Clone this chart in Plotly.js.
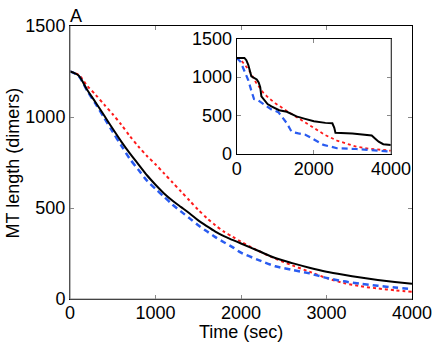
<!DOCTYPE html>
<html>
<head>
<meta charset="utf-8">
<script src="https://cdn.plot.ly/plotly-3.0.1.min.js"></script>
<style>html,body{margin:0;padding:0;background:#fff;}#chart{width:436px;height:342px;}</style>
</head>
<body>
<div id="chart"></div>
<script>
// Main panel data (time in sec, MT length in dimers)
const mainTime = [0,100,200,300,400,500,600,700,800,900,1000,1100,1200,1300,1400,1500,1600,1700,1800,1900,2000,2200,2400,2600,2800,3000,3200,3400,3600,3800,4000];
const mainBlack = [1250,1228,1150,1080,1008,935,865,800,740,680,628,580,540,505,470,432,400,370,345,325,305,265,225,197,172,150,133,118,105,94,84];
const mainBlue  = [1250,1226,1145,1072,995,918,843,770,710,650,605,562,518,480,443,405,372,340,312,285,255,215,180,160,141,116,97,84,73,63,54];
const mainRed   = [1250,1232,1172,1122,1068,1015,958,895,838,786,740,690,640,590,540,490,445,405,370,342,315,265,222,185,150,115,88,70,58,48,40];

// Inset data
const insetBlackTime = [0,200,250,300,380,450,520,570,610,640,700,800,900,1000,1100,1300,1450,1550,1750,2000,2300,2480,2530,2560,3000,3350,3500,3600,3680,3800,4000];
const insetBlack     = [1250,1250,1220,1160,1010,990,970,930,870,750,710,650,620,590,570,550,515,490,460,425,405,400,340,275,268,255,240,195,160,128,118];
const insetBlueTime  = [0,100,200,300,400,450,550,700,900,1080,1200,1300,1400,1450,1600,1780,1950,2100,2250,2450,2600,3100,3500,4000];
const insetBlue      = [1250,1200,1080,960,790,715,700,645,580,545,470,400,310,285,268,250,205,160,118,95,75,65,52,32];
const insetRedTime   = [0,100,200,350,500,700,850,1000,1300,1550,1800,2000,2300,2600,2850,3100,3450,3700,4000];
const insetRed       = [1250,1225,1170,1065,930,790,720,660,560,480,400,340,245,175,130,95,68,53,43];

// Ticks and labels
const mainXTicks = [0,1000,2000,3000,4000];
const mainYTicks = [0,500,1000,1500];
const insetXTicks = [0,2000,4000];
const insetYTicks = [0,500,1000,1500];
const xTitle = 'Time (sec)';
const yTitle = 'MT length (dimers)';
const panelLabel = 'A';

const blue = '#2a5cf0', red = '#ff1a1a';

const traces = [
  {x: mainTime, y: mainRed, mode:'lines', line:{color:red, width:2, dash:'dot', shape:'spline', smoothing:0.8}, xaxis:'x', yaxis:'y'},
  {x: mainTime, y: mainBlue, mode:'lines', line:{color:blue, width:2.5, dash:'6px,4px', shape:'spline', smoothing:0.8}, xaxis:'x', yaxis:'y'},
  {x: mainTime, y: mainBlack, mode:'lines', line:{color:'black', width:2, shape:'spline', smoothing:0.8}, xaxis:'x', yaxis:'y'},
  {x: insetRedTime, y: insetRed, mode:'lines', line:{color:red, width:1.8, dash:'dot'}, xaxis:'x2', yaxis:'y2'},
  {x: insetBlueTime, y: insetBlue, mode:'lines', line:{color:blue, width:2.2, dash:'6px,4px'}, xaxis:'x2', yaxis:'y2'},
  {x: insetBlackTime, y: insetBlack, mode:'lines', line:{color:'black', width:2}, xaxis:'x2', yaxis:'y2'}
];

const axBase = {showgrid:false, zeroline:false, ticks:'inside', ticklen:4, tickcolor:'#888',
  showline:true, linecolor:'black', linewidth:1, mirror:'ticks', tickfont:{size:18}};

const layout = {
  width:436, height:342,
  margin:{l:70, r:24, t:26, b:43, pad:0},
  showlegend:false,
  paper_bgcolor:'white', plot_bgcolor:'white',
  font:{family:'Liberation Sans, Arial, sans-serif', size:18, color:'black'},
  xaxis: Object.assign({}, axBase, {range:[0,4000], tickvals:mainXTicks, ticktext:mainXTicks.map(String), domain:[0,1], ticklabelstandoff:-3}),
  yaxis: Object.assign({}, axBase, {range:[0,1500], tickvals:mainYTicks, ticktext:mainYTicks.map(String), domain:[0,1]}),
  xaxis2: Object.assign({}, axBase, {anchor:'y2', range:[0,4000], tickvals:insetXTicks, ticktext:insetXTicks.map(String), domain:[0.4874,0.9386], ticklabelstandoff:-2}),
  yaxis2: Object.assign({}, axBase, {anchor:'x2', range:[0,1500], tickvals:insetYTicks, ticktext:insetYTicks.map(String), domain:[0.5311,0.9535]}),
  shapes:[
    {type:'line', xref:'paper', yref:'paper', x0:0, x1:0, y0:0, y1:1, line:{color:'#888', width:1.2}},
    {type:'line', xref:'paper', yref:'paper', x0:0, x1:1, y0:0, y1:0, line:{color:'#888', width:1.2}},
    {type:'line', xref:'paper', yref:'paper', x0:0.9386, x1:0.9386, y0:0.5311, y1:0.9535, line:{color:'#888', width:1}}
  ],
  annotations:[
    {text:panelLabel, xref:'paper', yref:'paper', x:0, y:1, xanchor:'left', yanchor:'bottom', showarrow:false, font:{size:18}, xshift:-2, yshift:-2},
    {text:xTitle, xref:'paper', yref:'paper', x:0.5, y:-0.1209, xanchor:'center', yanchor:'middle', showarrow:false, font:{size:18}},
    {text:yTitle, xref:'paper', yref:'paper', x:-0.1667, y:0.5, xanchor:'center', yanchor:'middle', textangle:-90, showarrow:false, font:{size:18}}
  ]
};

Plotly.newPlot('chart', traces, layout, {staticPlot:true, displayModeBar:false});
</script>
</body>
</html>
